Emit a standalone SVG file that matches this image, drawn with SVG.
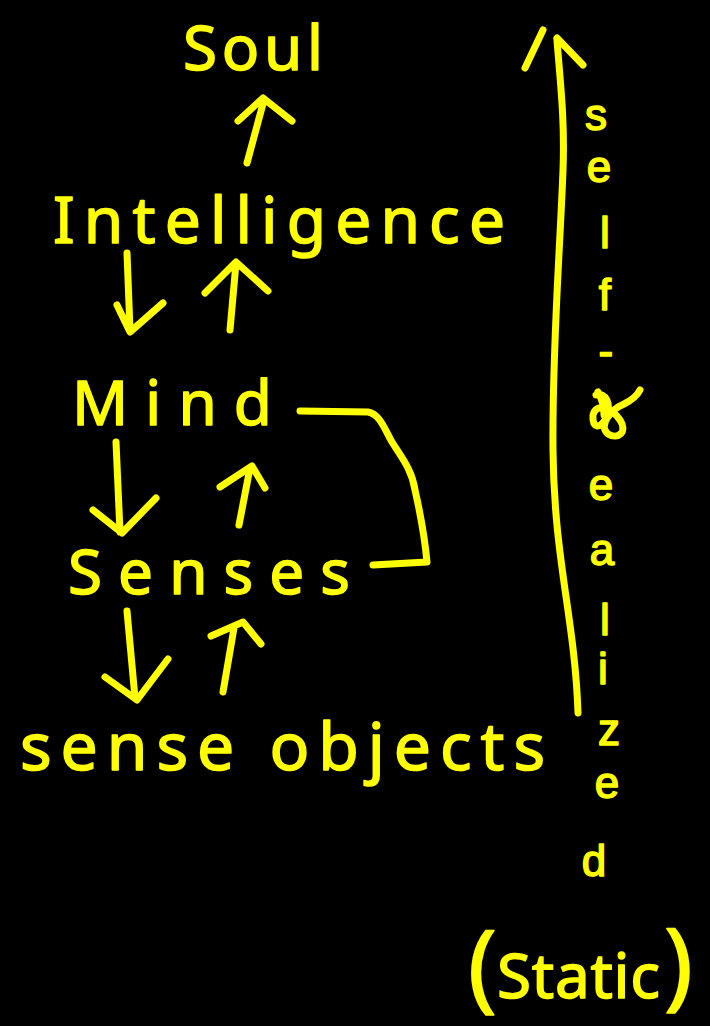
<svg xmlns="http://www.w3.org/2000/svg" width="710" height="1026" viewBox="0 0 710 1026">
  <style>
    .t { font-family: "Noto Sans", "DejaVu Sans", sans-serif; fill: #ffff00; stroke: #ffff00; stroke-width: 1.5; stroke-linejoin: round; }
    .v { font-family: "Liberation Sans", "Noto Sans", sans-serif; text-anchor: middle; font-size: 44px; }
    .ink { fill: none; stroke: #ffff00; stroke-width: 7; stroke-linecap: round; stroke-linejoin: round; }
  </style>
  <rect width="710" height="1026" fill="#000"/>

  <!-- hierarchy labels -->
  <g id="soul"><text class="t" x="183" y="70" font-size="62" textLength="140" lengthAdjust="spacing">Soul</text></g>
  <g id="intelligence"><text class="t" x="53" y="243" font-size="64" textLength="452" lengthAdjust="spacing">Intelligence</text></g>
  <g id="mind"><text class="t" x="72" y="425" font-size="62" textLength="200" lengthAdjust="spacing">Mind</text></g>
  <g id="senses"><text class="t" x="68" y="594" font-size="62" textLength="282" lengthAdjust="spacing">Senses</text></g>
  <g id="sense-objects"><text class="t" x="20" y="770" font-size="66" textLength="525" lengthAdjust="spacing">sense objects</text></g>

  <!-- vertical annotation, one letter per line -->
  <g id="self-realized">
    <text class="t v">
      <tspan x="602" y="130">s</tspan>
      <tspan x="605" y="182">e</tspan>
      <tspan x="611" y="248">l</tspan>
      <tspan x="611" y="310">f</tspan>
      <tspan x="612" y="366">-</tspan>
      <tspan x="607" y="500">e</tspan>
      <tspan x="608" y="565">a</tspan>
      <tspan x="611" y="635">l</tspan>
      <tspan x="609" y="684">i</tspan>
      <tspan x="615" y="745">z</tspan>
      <tspan x="613" y="798">e</tspan>
      <tspan x="594" y="876">d</tspan>
    </text>
    <!-- crossed-out letter -->
    <path class="ink" stroke-width="6" d="M596,395 C606,392 612,404 606,418 C600,430 592,428 593,415 C596,402 612,408 620,420 C628,432 618,440 608,434 C598,426 610,410 624,404 C632,400 638,394 640,390 M598,392 C602,400 604,405 604,415"/>
  </g>
  <g id="static">
    <text class="t" x="468" y="1000" font-size="96" stroke-width="0">(</text>
    <text class="t" x="497" y="998" font-size="62" textLength="163" lengthAdjust="spacing">Static</text>
    <text class="t" x="664" y="998" font-size="96" stroke-width="0">)</text>
  </g>

  <!-- connectors -->
  <g id="connectors">
    <!-- Intelligence -> Soul -->
    <path class="ink" d="M247,163 L264,100 M238,121 L263,98 L292,121"/>
    <!-- Intelligence -> Mind -->
    <path class="ink" d="M127,253 L130,330 M117,305 L130,332 L163,303"/>
    <!-- Mind -> Intelligence -->
    <path class="ink" d="M230,330 L236,263 M205,293 L236,262 L268,291"/>
    <!-- Mind -> Senses -->
    <path class="ink" d="M116,442 L120,532 M93,510 L122,533 L156,498"/>
    <!-- Senses -> Mind -->
    <path class="ink" d="M239,525 L250,468 M220,487 L252,466 L265,488"/>
    <!-- Senses -> sense objects -->
    <path class="ink" d="M127,611 L135,698 M105,677 L137,700 L168,659"/>
    <!-- sense objects -> Senses -->
    <path class="ink" d="M223,692 L234,628 M211,636 L243,622 L261,644"/>
    <!-- Mind / Senses loop -->
    <path class="ink" d="M300,411 L368,412 C380,414 385,430 392,442 C402,458 412,470 415,490 C420,512 424,530 427,562 L373,565"/>
    <!-- long upward arrow -->
    <path class="ink" d="M557,40 C560,80 565,120 563,170 C560,250 552,350 553,450 C554,560 575,620 578,713"/>
    <path class="ink" d="M543,30 L525,68 M557,38 L583,65"/>
  </g>
</svg>
